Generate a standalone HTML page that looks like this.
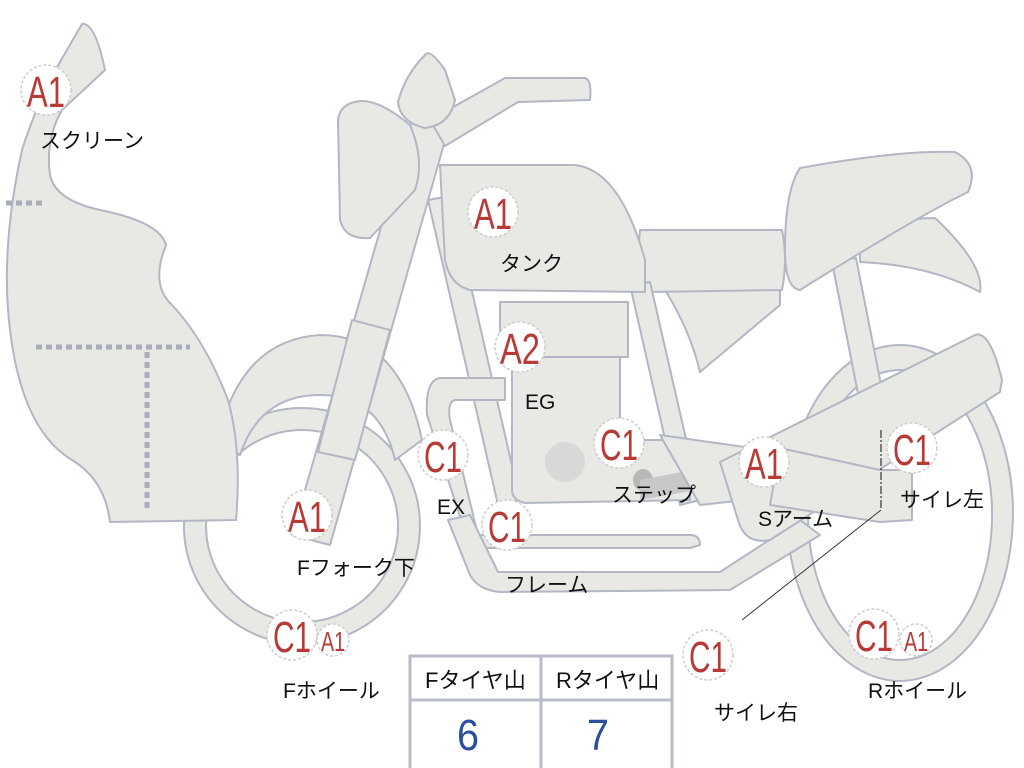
<!DOCTYPE html>
<html><head><meta charset="utf-8"><style>
html,body{margin:0;padding:0;background:#fff;width:1024px;height:768px;overflow:hidden}
svg{display:block}
.p{fill:#e8e9e5;stroke:#b2b7c3;stroke-width:2;stroke-linejoin:round}
.b{fill:#fff;stroke:#ccc;stroke-width:1.5;stroke-dasharray:3 2}
.r{fill:#b83a36;font-family:"Liberation Sans",sans-serif;text-anchor:middle}
.t{fill:#111;font-family:"Liberation Sans","Noto Sans CJK JP",sans-serif;font-size:21px}
</style></head><body>
<svg width="1024" height="768" viewBox="0 0 1024 768">
<path class="p" fill-rule="evenodd" d="M900,345 a113,168 0 1,1 -0.1,0 Z M900,370 a92,145 0 1,0 0.1,0 Z"/>
<path class="p" fill-rule="evenodd" d="M302,408 a118,118 0 1,1 -0.1,0 Z M302,430 a96,96 0 1,0 0.1,0 Z"/>
<path class="p" d="M218,440 Q240,340 320,335 Q400,335 422,440 L395,460 Q380,395 320,395 Q260,395 240,455 Z"/>
<path class="p" d="M60,62 L82,24 Q95,22 105,70 L62,110 Q45,140 50,175 Q55,200 100,210 Q160,222 166,245 Q150,285 172,305 Q205,340 228,400 Q242,450 236,520 L110,522 Q105,480 72,460 Q22,430 10,330 Q0,250 22,150 Q38,100 60,62 Z"/>
<path d="M6,203H45M36,347H190M147,352V512" stroke="#a8adb8" stroke-width="5" stroke-dasharray="6 4" fill="none"/>
<path class="p" d="M832,262 L856,258 L888,420 L864,424 Z"/>
<path class="p" d="M665,290 L780,290 L780,305 L700,372 Q690,330 665,290 Z"/>
<path class="p" d="M860,232 Q900,218 935,218 Q985,265 980,292 Q930,265 860,262 Z"/>
<path class="p" d="M800,168 Q900,150 955,152 Q980,165 968,192 Q920,215 800,290 Q785,288 785,250 Q785,190 800,168 Z"/>
<path class="p" d="M640,230 L782,230 Q788,260 782,290 L648,292 Q636,262 640,230 Z"/>
<path class="p" d="M428,200 L450,196 L520,500 L498,505 Z"/>
<path class="p" d="M630,285 L650,282 L700,500 L680,505 Z"/>
<path class="p" d="M412,120 L448,130 L330,545 L292,535 Z"/>
<path class="p" d="M352,320 L390,330 L355,460 L318,452 Z"/>
<path class="p" d="M430,120 L505,78 L585,78 Q592,80 590,100 L518,102 L445,146 Z"/>
<path class="p" d="M355,102 Q375,96 410,125 Q425,160 415,190 L370,238 Q345,240 340,220 L338,120 Q340,105 355,102 Z"/>
<path class="p" d="M425,55 Q430,48 445,70 L455,100 Q450,125 425,128 Q400,122 398,102 Q405,75 425,55 Z"/>
<path class="p" d="M440,165 L575,165 Q620,170 645,260 L645,292 L470,290 Q450,285 445,260 Z"/>
<path class="p" d="M500,302 L628,302 L628,357 L500,357 Z"/>
<path class="p" d="M512,357 L620,357 L620,440 L690,440 L690,500 L525,503 Q512,500 512,490 Z"/>
<circle cx="565" cy="462" r="20" fill="#d8d8d8"/>
<ellipse cx="643" cy="480" rx="10" ry="11" fill="#b8b8b8"/>
<ellipse cx="692" cy="480" rx="10" ry="11" fill="#b8b8b8"/>
<path d="M640,480 L692,470 L696,490 L640,500 Z" fill="#c8c8c8"/>
<path class="p" d="M440,378 L505,378 L505,400 L455,400 Q447,402 450,420 L478,535 L690,535 Q700,535 700,545 L690,548 L485,548 Q470,548 466,535 L427,415 Q425,380 440,378 Z"/>
<path class="p" d="M448,520 L470,515 L498,572 L720,572 L800,520 L820,535 L730,590 L500,592 Q478,590 470,575 Z"/>
<path class="p" d="M660,435 L780,452 L790,495 L700,505 Z"/>
<path class="p" d="M720,462 L975,335 Q990,330 1002,380 L1000,392 L770,540 Q745,545 738,520 Z"/>
<path class="p" d="M780,448 L880,470 L912,470 L912,520 L880,522 L770,505 Z"/>
<path d="M881,430 V510" stroke="#333" stroke-width="1.2" stroke-dasharray="8 2 2 2" fill="none"/>
<path d="M881,510 L742,620" stroke="#333" stroke-width="1" fill="none"/>
<g fill="none" stroke="#b8bcc8" stroke-width="3">
<rect x="410" y="656" width="262" height="114"/>
<line x1="410" y1="700" x2="672" y2="700"/>
<line x1="541" y1="656" x2="541" y2="768"/>
</g>
<text class="t" x="425" y="688" style="font-size:22px">Fタイヤ山</text>
<text class="t" x="556" y="688" style="font-size:22px">Rタイヤ山</text>
<text x="468" y="750" fill="#2a4ea0" font-family="Liberation Sans,sans-serif" font-size="44" text-anchor="middle" textLength="22" lengthAdjust="spacingAndGlyphs">6</text>
<text x="598" y="750" fill="#2a4ea0" font-family="Liberation Sans,sans-serif" font-size="44" text-anchor="middle" textLength="22" lengthAdjust="spacingAndGlyphs">7</text>
<g>
<circle class="b" cx="46" cy="90" r="25"/><text class="r" x="46" y="107" font-size="44" textLength="38" lengthAdjust="spacingAndGlyphs">A1</text>
<circle class="b" cx="493" cy="212" r="25"/><text class="r" x="493" y="229" font-size="44" textLength="38" lengthAdjust="spacingAndGlyphs">A1</text>
<circle class="b" cx="520" cy="347" r="25"/><text class="r" x="520" y="364" font-size="44" textLength="40" lengthAdjust="spacingAndGlyphs">A2</text>
<circle class="b" cx="443" cy="455" r="25"/><text class="r" x="443" y="472" font-size="44" textLength="38" lengthAdjust="spacingAndGlyphs">C1</text>
<circle class="b" cx="307" cy="515" r="25"/><text class="r" x="307" y="532" font-size="44" textLength="38" lengthAdjust="spacingAndGlyphs">A1</text>
<circle class="b" cx="619" cy="443" r="25"/><text class="r" x="619" y="460" font-size="44" textLength="38" lengthAdjust="spacingAndGlyphs">C1</text>
<circle class="b" cx="507" cy="525" r="25"/><text class="r" x="507" y="542" font-size="44" textLength="38" lengthAdjust="spacingAndGlyphs">C1</text>
<circle class="b" cx="764" cy="462" r="25"/><text class="r" x="764" y="479" font-size="44" textLength="38" lengthAdjust="spacingAndGlyphs">A1</text>
<circle class="b" cx="912" cy="448" r="25"/><text class="r" x="912" y="465" font-size="44" textLength="38" lengthAdjust="spacingAndGlyphs">C1</text>
<circle class="b" cx="292" cy="635" r="25"/><text class="r" x="292" y="652" font-size="44" textLength="38" lengthAdjust="spacingAndGlyphs">C1</text>
<circle class="b" cx="333" cy="640" r="16"/><text class="r" x="333" y="651" font-size="28" textLength="24" lengthAdjust="spacingAndGlyphs">A1</text>
<circle class="b" cx="708" cy="655" r="25"/><text class="r" x="708" y="672" font-size="44" textLength="38" lengthAdjust="spacingAndGlyphs">C1</text>
<circle class="b" cx="874" cy="634" r="25"/><text class="r" x="874" y="651" font-size="44" textLength="38" lengthAdjust="spacingAndGlyphs">C1</text>
<circle class="b" cx="916" cy="640" r="16"/><text class="r" x="916" y="651" font-size="28" textLength="24" lengthAdjust="spacingAndGlyphs">A1</text>
</g>
<text class="t" x="40" y="148">スクリーン</text>
<text class="t" x="500" y="271">タンク</text>
<text class="t" x="525" y="409">EG</text>
<text class="t" x="437" y="514">EX</text>
<text class="t" x="612" y="502">ステップ</text>
<text class="t" x="505" y="592">フレーム</text>
<text class="t" x="758" y="526">Sアーム</text>
<text class="t" x="900" y="507">サイレ左</text>
<text class="t" x="297" y="575">Fフォーク下</text>
<text class="t" x="283" y="698">Fホイール</text>
<text class="t" x="714" y="720">サイレ右</text>
<text class="t" x="868" y="698">Rホイール</text>
</svg>
</body></html>
